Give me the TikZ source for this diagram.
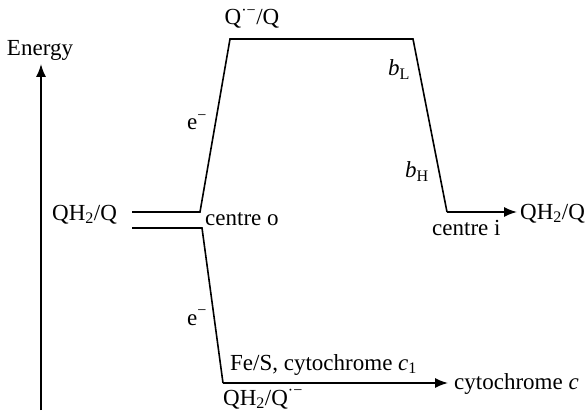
\documentclass[tikz,border=0pt]{standalone}
\usepackage{fontspec}
\setmainfont{Liberation Serif}
\usetikzlibrary{arrows.meta}
\begin{document}
\begin{tikzpicture}[x=1pt,y=-1pt,
  lbl/.style={inner sep=0pt,font=\fontsize{23}{27}\selectfont},
  path/.style={line width=1.6pt,line join=miter},
  arr/.style={path,-{Latex[length=13pt,width=10pt]}}]
\useasboundingbox (0,0) rectangle (588,414);
% energy axis
\coordinate (ebot) at (41,410);
\coordinate (etop) at (41,64);
\draw[arr] (ebot) -- (etop);
\node[lbl,anchor=base] (energy) at (40,56) {Energy};
% corners
\coordinate (l1a) at (132,212);
\coordinate (l1b) at (200,212);
\coordinate (tl) at (230,39);
\coordinate (tr) at (413,39);
\coordinate (rb) at (447,212);
\coordinate (rend) at (517,212);
\coordinate (l2a) at (132,228);
\coordinate (l2b) at (202,228);
\coordinate (bl) at (223,383);
\coordinate (bend) at (448,383);
\draw[path] (l1a) -- (l1b) -- (tl) -- (tr) -- (rb);
\draw[arr] (rb) -- (rend);
\draw[path] (l2a) -- (l2b) -- (bl);
\draw[arr] (bl) -- (bend);
% labels
\node[lbl,anchor=base] (qtop) at (252,25) {Q\textsuperscript{·−}/Q};
\node[lbl,anchor=base west] (qh2l) at (52,220) {QH\textsubscript{2}/Q};
\node[lbl,anchor=base west] (co) at (205,225) {centre o};
\node[lbl,anchor=base west] (qh2r) at (520,219) {QH\textsubscript{2}/Q};
\node[lbl,anchor=base west] (ci) at (432,235) {centre i};
\node[lbl,anchor=base west] (bh) at (405,178) {\textit{b}\textsubscript{H}};
\node[lbl,anchor=base west] (bl2) at (388,76) {\textit{b}\textsubscript{L}};
\node[lbl,anchor=base west] (e1) at (187,130) {e\textsuperscript{−}};
\node[lbl,anchor=base west] (e2) at (187,325) {e\textsuperscript{−}};
\node[lbl,anchor=base west] (fes) at (230,370) {Fe/S, cytochrome \textit{c}\textsubscript{1}};
\node[lbl,anchor=base west] (cytc) at (454,389) {cytochrome \textit{c}};
\node[lbl,anchor=base west] (qh2q) at (223,405) {QH\textsubscript{2}/Q\textsuperscript{·−}};
\end{tikzpicture}
\end{document}
